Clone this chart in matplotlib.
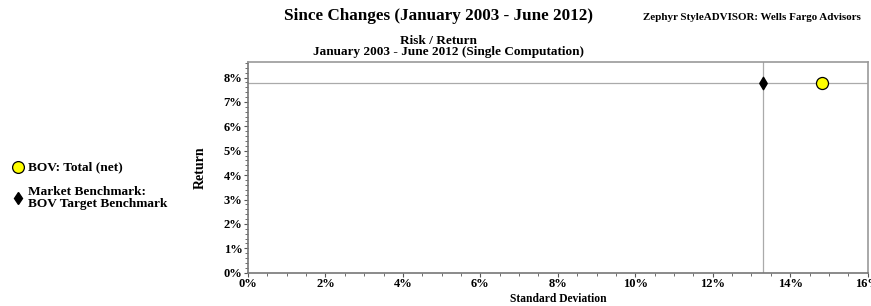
import matplotlib.pyplot as plt
from matplotlib.ticker import MultipleLocator, FuncFormatter

# data (percent)
names = ["BOV: Total (net)", "Market Benchmark:\nBOV Target Benchmark"]
std_dev = [14.81, 13.30]
returns = [7.76, 7.76]

plt.rcParams["font.family"] = ["Liberation Serif", "DejaVu Serif"]
plt.rcParams["font.weight"] = "bold"

fig = plt.figure(figsize=(8.71, 3.06), dpi=100)
ax = fig.add_axes([0.2847, 0.1088, 0.7115, 0.6896])

# crosshair at the benchmark
ax.axvline(std_dev[1], color="#aaaaaa", lw=0.9, zorder=1)
ax.axhline(returns[1], color="#aaaaaa", lw=0.9, zorder=1)

ax.scatter(std_dev[0], returns[0], s=75, marker="o", facecolor="#ffff00",
           edgecolor="black", linewidth=0.9, zorder=3)
ax.scatter(std_dev[1], returns[1], s=40, marker="d", color="black", zorder=3)

ax.set_xlim(0, 16)
ax.set_ylim(0, 8.65)
ax.xaxis.set_major_locator(MultipleLocator(2))
ax.xaxis.set_minor_locator(MultipleLocator(0.5))
ax.yaxis.set_major_locator(MultipleLocator(1))
ax.yaxis.set_minor_locator(MultipleLocator(0.2))
pct = FuncFormatter(lambda v, p: "%d%%" % round(v))
ax.xaxis.set_major_formatter(pct)
ax.yaxis.set_major_formatter(pct)
ax.tick_params(which="major", length=3, width=0.8, color="#555555",
               labelsize=9, pad=1)
ax.tick_params(which="minor", length=2, width=0.6, color="#555555")
for s in ["left", "bottom"]:
    ax.spines[s].set_color("#777777")
    ax.spines[s].set_linewidth(1.2)
for s in ["top", "right"]:
    ax.spines[s].set_color("#999999")
    ax.spines[s].set_linewidth(1.2)

ax.set_xlabel("Standard Deviation", fontsize=8.3, fontweight="bold",
              labelpad=2)
ax.set_ylabel("Return", fontsize=10, fontweight="bold", labelpad=12)

# titles
fig.text(0.503, 1 - 16 / 306, "Since Changes (January 2003 - June 2012)",
         ha="center", va="center", fontsize=12.3)
fig.text(0.988, 1 - 17 / 306, "Zephyr StyleADVISOR: Wells Fargo Advisors",
         ha="right", va="center", fontsize=7.9)
fig.text(0.503, 1 - 41 / 306, "Risk / Return", ha="center", va="center",
         fontsize=9.5)
fig.text(0.515, 1 - 52 / 306, "January 2003 - June 2012 (Single Computation)",
         ha="center", va="center", fontsize=9.5)

# legend on the left
fig.lines.append(plt.Line2D([0.0207], [1 - 167 / 306], marker="o", ms=8.5,
                            mfc="#ffff00", mec="black", mew=0.9,
                            transform=fig.transFigure))
fig.text(0.032, 1 - 167 / 306, names[0], va="center", fontsize=9.6)
fig.lines.append(plt.Line2D([0.0207], [1 - 198 / 306], marker="d", ms=6,
                            color="black", transform=fig.transFigure))
fig.text(0.032, 1 - 198 / 306, names[1], va="center", fontsize=9.6,
         linespacing=1.0)

fig.savefig("out.png", dpi=100)
